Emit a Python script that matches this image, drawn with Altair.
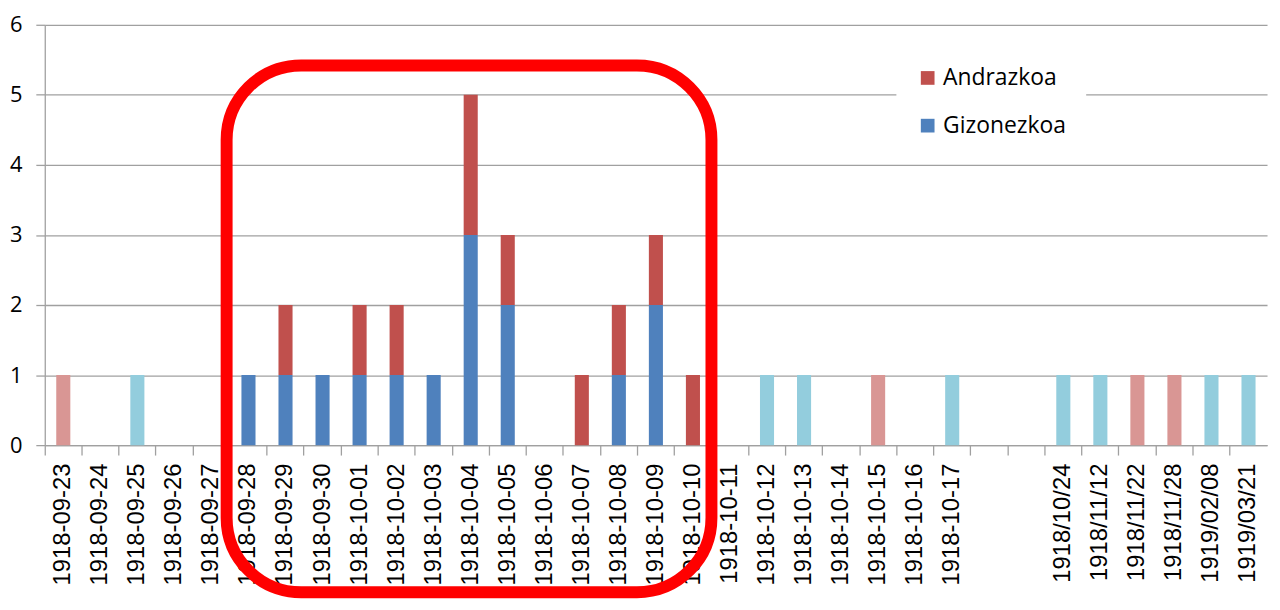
import altair as alt
import pandas as pd

categories = ["1918-09-23", "1918-09-24", "1918-09-25", "1918-09-26", "1918-09-27",
              "1918-09-28", "1918-09-29", "1918-09-30", "1918-10-01", "1918-10-02",
              "1918-10-03", "1918-10-04", "1918-10-05", "1918-10-06", "1918-10-07",
              "1918-10-08", "1918-10-09", "1918-10-10", "1918-10-11", "1918-10-12",
              "1918-10-13", "1918-10-14", "1918-10-15", "1918-10-16", "1918-10-17",
              " ", "  ",
              "1918/10/24", "1918/11/12", "1918/11/22", "1918/11/28", "1919/02/08", "1919/03/21"]
gizonezkoa = [0, 0, 1, 0, 0,
              1, 1, 1, 1, 1,
              1, 3, 2, 0, 0,
              1, 2, 0, 0, 1,
              1, 0, 0, 0, 1,
              0, 0,
              1, 1, 0, 0, 1, 1]
andrazkoa = [1, 0, 0, 0, 0,
             0, 1, 0, 1, 1,
             0, 2, 1, 0, 1,
             1, 1, 1, 0, 0,
             0, 0, 1, 0, 0,
             0, 0,
             0, 0, 1, 1, 0, 0]
highlighted = [False] * 5 + [True] * 13 + [False] * 15

series_names = ["Andrazkoa", "Gizonezkoa"]
# annotation box, in category-index units (x) and value units (y)
box_x = [4.91, 18.0]
box_y = [-2.1, 5.42]

rows = []
for cat, g, a, h in zip(categories, gizonezkoa, andrazkoa, highlighted):
    if g > 0:
        rows.append({"cat": cat, "value": g, "series": "Gizonezkoa" if h else "Gizonezkoa_f", "ord": 0})
    if a > 0:
        rows.append({"cat": cat, "value": a, "series": "Andrazkoa" if h else "Andrazkoa_f", "ord": 1})
df = pd.DataFrame(rows)

color_domain = ["Andrazkoa", "Gizonezkoa", "Andrazkoa_f", "Gizonezkoa_f"]
color_range = ["#C0504D", "#4F81BD", "#D99694", "#93CDDD"]

bars = alt.Chart(df).mark_bar(width=alt.RelativeBandSize(0.38)).encode(
    x=alt.X("cat:N", sort=categories,
            scale=alt.Scale(domain=categories, paddingInner=0, paddingOuter=0),
            axis=alt.Axis(title=None, labelAngle=270, bandPosition=0, labelFontSize=24,
                          labelFont="Liberation Sans", labelColor="#000000", labelPadding=8,
                          tickSize=10, tickColor="#A0A0A0", domainColor="#A0A0A0",
                          tickWidth=1.3, domainWidth=1.3, grid=False, labelOverlap=False)),
    y=alt.Y("value:Q", stack="zero",
            scale=alt.Scale(domain=[0, 6], nice=False),
            axis=alt.Axis(title=None, values=[0, 1, 2, 3, 4, 5, 6], format="d", labelFontSize=22,
                          labelFont="Open Sans", labelColor="#000000", labelPadding=14,
                          tickSize=9, tickColor="#A0A0A0", domainColor="#A0A0A0",
                          tickWidth=1.3, domainWidth=1.3,
                          gridColor="#A0A0A0", gridWidth=1.3)),
    color=alt.Color("series:N",
                    scale=alt.Scale(domain=color_domain, range=color_range),
                    legend=alt.Legend(title=None, values=series_names, orient="none",
                                      legendX=857, legendY=22, symbolType="square",
                                      symbolSize=190, symbolStrokeWidth=0, labelOffset=4,
                                      labelFontSize=23, labelFont="Open Sans",
                                      labelColor="#000000", rowPadding=24,
                                      fillColor="white", padding=20)),
    order=alt.Order("ord:Q"),
)

box_df = pd.DataFrame({"x0": [box_x[0]], "x1": [box_x[1]], "y0": [box_y[0]], "y1": [box_y[1]]})
box = alt.Chart(box_df).mark_rect(fillOpacity=0, stroke="#FF0000", strokeWidth=12,
                                  cornerRadius=75, clip=False).encode(
    x=alt.X("x0:Q", scale=alt.Scale(domain=[0, len(categories)], nice=False, zero=True), axis=None),
    x2="x1:Q",
    y=alt.Y("y0:Q"),
    y2="y1:Q",
)

chart = alt.layer(bars, box).resolve_scale(x="independent").properties(
    width=1230, height=423,
    autosize=alt.AutoSizeParams(type="none"),
    padding={"left": 37, "top": 15, "right": 5, "bottom": 160},
).configure_view(stroke=None)

chart.save("out.html", embed_options={"renderer": "svg", "actions": False})
